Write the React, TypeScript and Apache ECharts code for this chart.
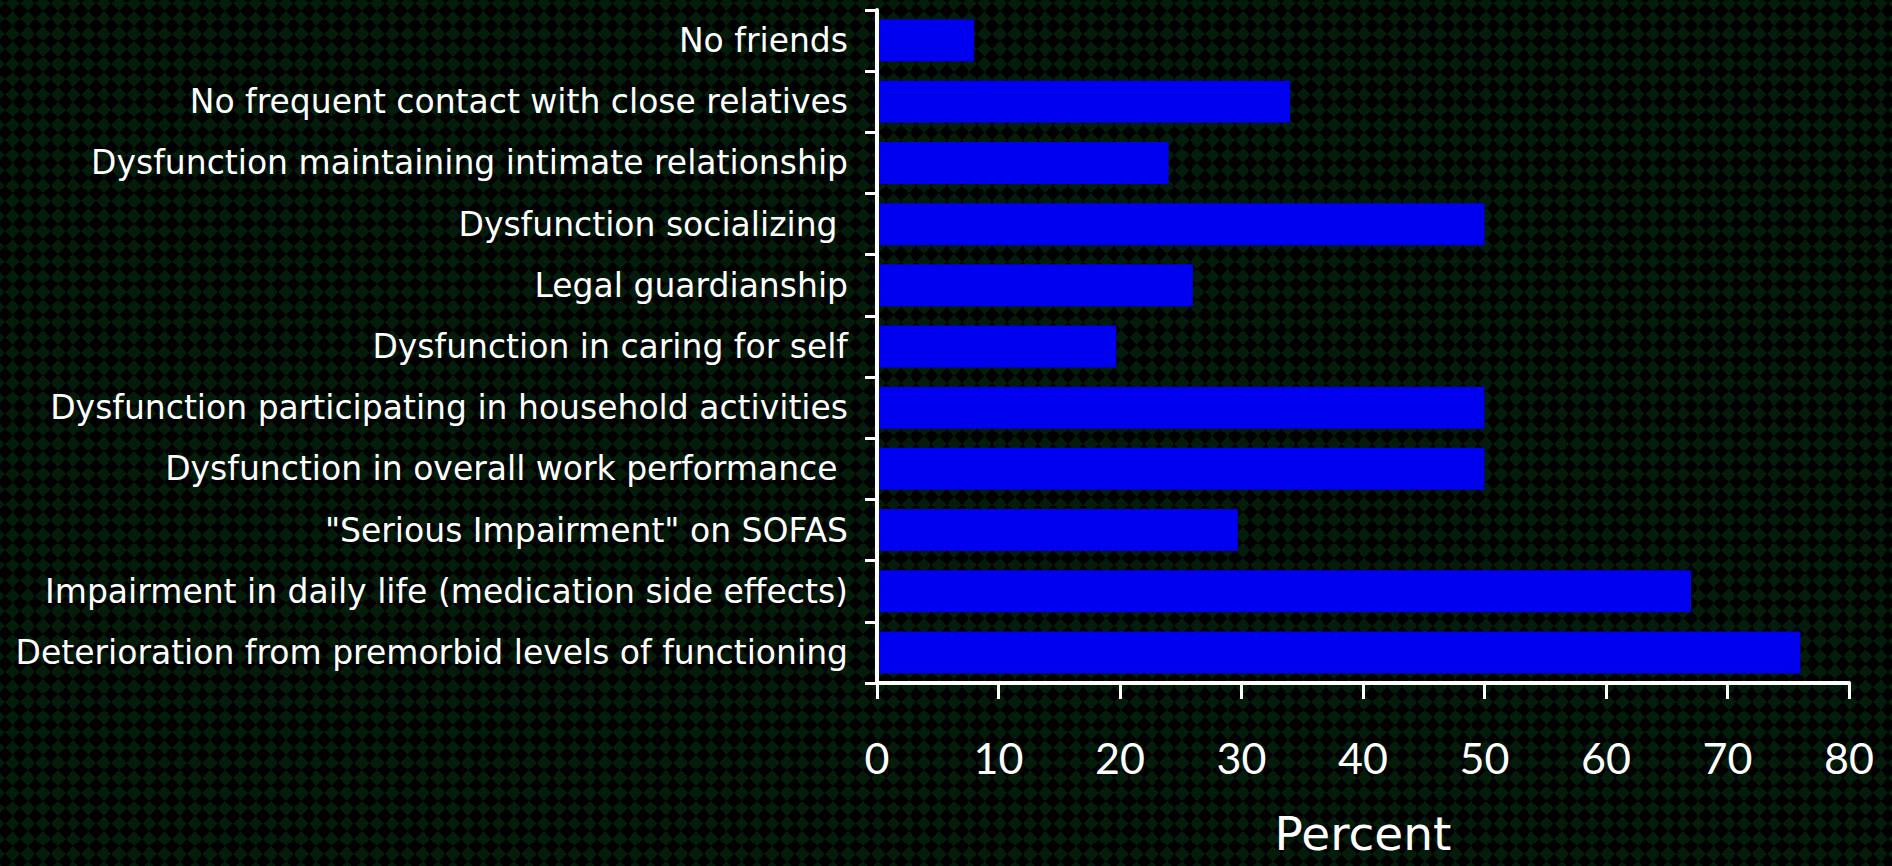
import React, { useEffect, useRef } from "react";
import * as echarts from "echarts";

const categories: string[] = [
  "No friends",
  "No frequent contact with close relatives",
  "Dysfunction maintaining intimate relationship",
  "Dysfunction socializing ",
  "Legal guardianship",
  "Dysfunction in caring for self",
  "Dysfunction participating in household activities",
  "Dysfunction in overall work performance ",
  "\"Serious Impairment\" on SOFAS",
  "Impairment in daily life (medication side effects)",
  "Deterioration from premorbid levels of functioning",
];

const percentValues: number[] = [8, 34, 24, 50, 26, 19.7, 50, 50, 29.7, 67, 76];

const xTicks: number[] = [0, 10, 20, 30, 40, 50, 60, 70, 80];

const LABEL_FONT = "'DejaVu Sans', Verdana, sans-serif";
const TICK_FONT = "Lato, 'Open Sans', 'DejaVu Sans', sans-serif";

const patternSvg =
  "data:image/svg+xml;utf8," +
  encodeURIComponent(
    "<svg xmlns='http://www.w3.org/2000/svg' width='15.2' height='15.2'><polygon points='7.6,0 15.2,7.6 7.6,15.2 0,7.6' fill='#041c0a'/></svg>"
  );

export default function App() {
  const ref = useRef<HTMLDivElement>(null);

  useEffect(() => {
    if (!ref.current) return;
    const chart = echarts.init(ref.current, undefined, { renderer: "svg" });
    chart.setOption({
      animation: false,
      backgroundColor: "transparent",
      grid: {
        left: 877,
        right: 43,
        top: 10,
        bottom: 183,
        containLabel: false,
        outerBoundsMode: "none",
      },
      xAxis: {
        type: "value",
        min: xTicks[0],
        max: xTicks[xTicks.length - 1],
        interval: 10,
        name: "Percent",
        nameLocation: "middle",
        nameGap: 127,
        nameTextStyle: { color: "#ffffff", fontSize: 47, lineHeight: 47, fontFamily: LABEL_FONT },
        axisLine: { show: true, lineStyle: { color: "#ffffff", width: 4 } },
        axisTick: { show: true, inside: false, length: 16, lineStyle: { color: "#ffffff", width: 3 } },
        axisLabel: { color: "#ffffff", fontSize: 43, fontFamily: TICK_FONT, margin: 53 },
        splitLine: { show: false },
        z: 10,
      },
      yAxis: {
        type: "category",
        data: categories,
        inverse: true,
        axisLine: { show: true, lineStyle: { color: "#ffffff", width: 4 } },
        axisTick: { show: true, inside: false, length: 12, alignWithLabel: false, lineStyle: { color: "#ffffff", width: 3 } },
        axisLabel: { color: "#ffffff", fontSize: 33, fontFamily: LABEL_FONT, margin: 29, interval: 0 },
        splitLine: { show: false },
        z: 10,
      },
      series: [
        {
          type: "bar",
          data: percentValues,
          barWidth: 42,
          itemStyle: { color: "#0000f0" },
        },
      ],
    });
    return () => chart.dispose();
  }, []);

  return (
    <div
      style={{
        position: "fixed",
        left: 0,
        top: 0,
        width: 1892,
        height: 866,
        backgroundColor: "#000000",
        backgroundImage: `url("${patternSvg}")`,
        backgroundSize: "15.2px 15.2px",
        backgroundPosition: "5px 11px",
      }}
    >
      <div ref={ref} style={{ width: 1892, height: 866 }} />
    </div>
  );
}
